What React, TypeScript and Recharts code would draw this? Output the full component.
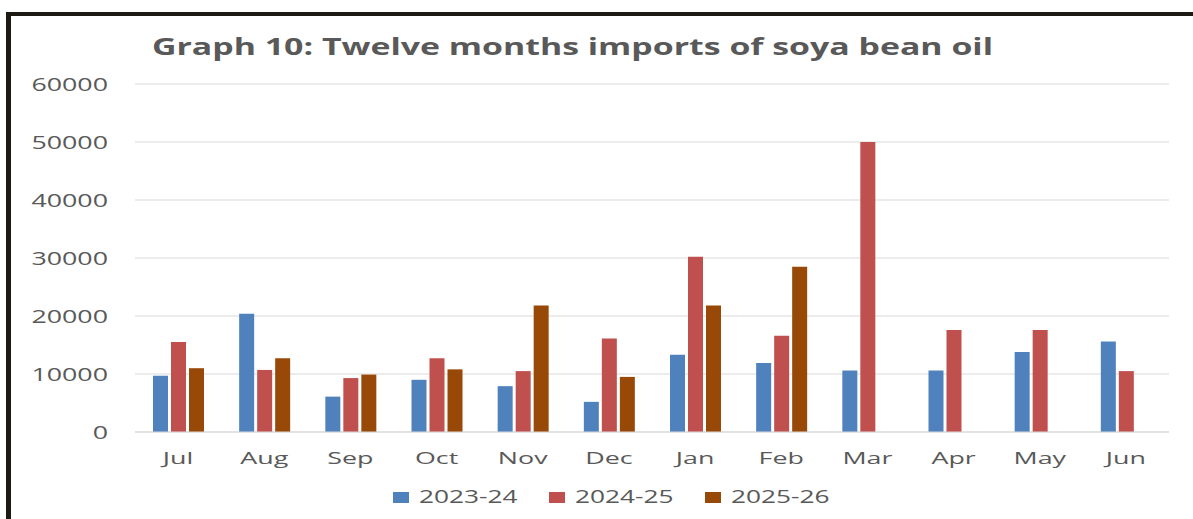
import { Bar, BarChart, CartesianGrid, Legend, XAxis, YAxis } from 'recharts';

const months = ['Jul', 'Aug', 'Sep', 'Oct', 'Nov', 'Dec', 'Jan', 'Feb', 'Mar', 'Apr', 'May', 'Jun'];
const imports2023 = [9700, 20400, 6100, 9000, 7900, 5200, 13300, 11900, 10600, 10600, 13800, 15600];
const imports2024 = [15500, 10700, 9300, 12700, 10500, 16100, 30200, 16600, 50000, 17600, 17600, 10500];
const imports2025 = [11000, 12700, 9900, 10800, 21800, 9500, 21800, 28500, null, null, null, null];
const yTicks = [0, 10000, 20000, 30000, 40000, 50000, 60000];

const seriesList = [
  { key: 's2023', name: '2023-24', color: '#4F81BD' },
  { key: 's2024', name: '2024-25', color: '#C0504D' },
  { key: 's2025', name: '2025-26', color: '#984807' },
];

const data = months.map((month, i) => ({
  month,
  s2023: imports2023[i],
  s2024: imports2024[i],
  s2025: imports2025[i],
}));

const TEXT = '#595959';
const FONT = '"Open Sans", sans-serif';

function YTick({ x, y, payload }: any) {
  return (
    <text
      transform={`translate(${x},${y + 6.5}) scale(1.41,1)`}
      textAnchor="end"
      fontFamily={FONT}
      fontSize={19}
      fill={TEXT}
    >
      {payload.value}
    </text>
  );
}

function XTick({ x, y, payload }: any) {
  return (
    <text
      transform={`translate(${x},${y + 30}) scale(1.58,1)`}
      textAnchor="middle"
      fontFamily={FONT}
      fontSize={17}
      fill={TEXT}
    >
      {payload.value}
    </text>
  );
}

function LegendBox() {
  return (
    <svg width={480} height={40}>
      {seriesList.map((s, i) => (
        <g key={s.key}>
          <rect x={13 + i * 156} y={14} width={16} height={11} fill={s.color} />
          <text
            transform={`translate(${39 + i * 156},25.3) scale(1.46,1)`}
            fontFamily={FONT}
            fontSize={18}
            fill={TEXT}
          >
            {s.name}
          </text>
        </g>
      ))}
    </svg>
  );
}

export default function App() {
  return (
    <div style={{ position: 'absolute', left: 0, top: 0, width: 1193, height: 519, background: '#fff' }}>
      <div
        style={{
          position: 'absolute',
          left: 6,
          top: 12,
          right: 0,
          bottom: 0,
          borderLeft: '5px solid #1c1a12',
          borderTop: '4px solid #1c1a12',
        }}
      />
      <BarChart
        width={1193}
        height={519}
        data={data}
        margin={{ top: 84, right: 24, bottom: 47, left: 8 }}
        barSize={15}
        barGap={3}
      >
        <CartesianGrid vertical={false} stroke="#d9d9d9" />
        <XAxis
          dataKey="month"
          height={40}
          axisLine={{ stroke: '#d9d9d9' }}
          tickLine={false}
          tickSize={0}
          tick={<XTick />}
          interval={0}
        />
        <YAxis
          width={127}
          domain={[0, 60000]}
          ticks={yTicks}
          axisLine={false}
          tickLine={false}
          tickSize={0}
          tickMargin={27}
          tick={<YTick />}
        />
        <Legend
          layout="horizontal"
          verticalAlign="middle"
          align="center"
          content={<LegendBox />}
          wrapperStyle={{ left: 380, top: 478, width: 480, height: 40 }}
        />
        {seriesList.map((s) => (
          <Bar key={s.key} dataKey={s.key} name={s.name} fill={s.color} isAnimationActive={false} />
        ))}
      </BarChart>
      <svg
        width={1193}
        height={80}
        style={{ position: 'absolute', left: 0, top: 0, pointerEvents: 'none' }}
      >
        <text
          x={152}
          y={55}
          fontFamily={FONT}
          fontSize={24}
          fontWeight={700}
          fill={TEXT}
          textLength={841}
          lengthAdjust="spacingAndGlyphs"
        >
          Graph 10: Twelve months imports of soya bean oil
        </text>
      </svg>
    </div>
  );
}
